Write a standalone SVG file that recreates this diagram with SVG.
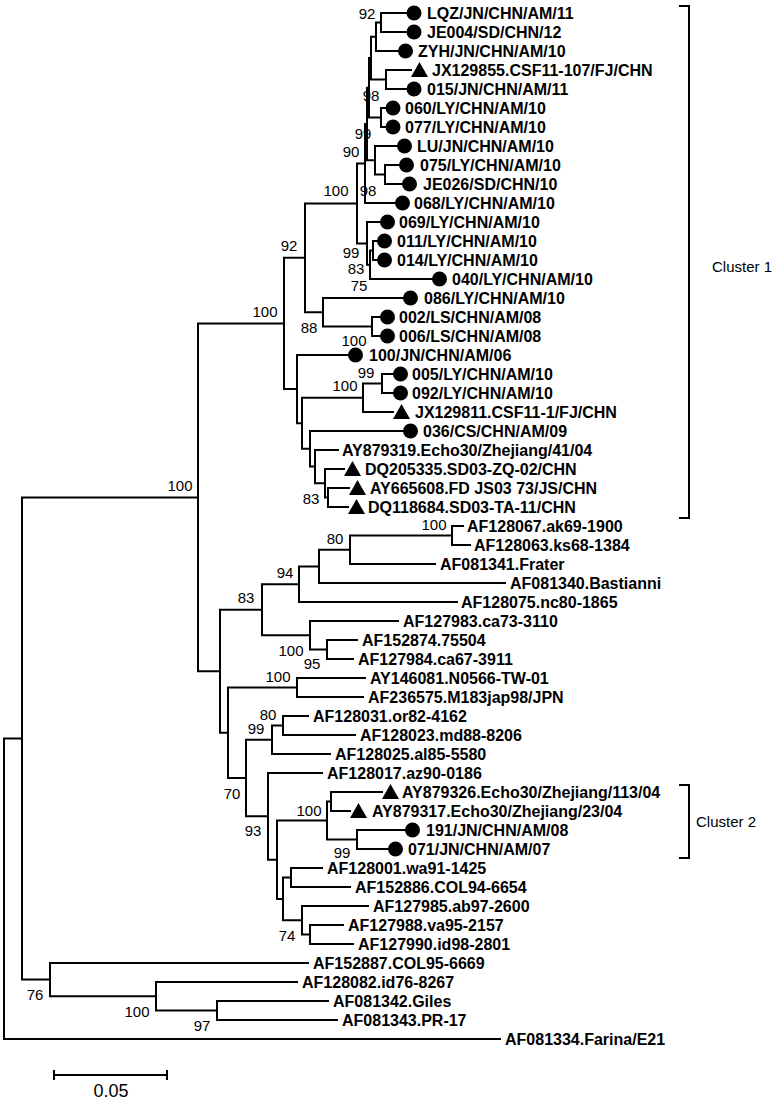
<svg xmlns="http://www.w3.org/2000/svg" width="773" height="1101" viewBox="0 0 773 1101">
<style>
.br{fill:none;stroke:#000;stroke-width:2;stroke-linecap:square}
.lf{font-family:"Liberation Sans",Arial,sans-serif;font-size:16px;font-weight:bold;fill:#000}
.bs{font-family:"Liberation Sans",Arial,sans-serif;font-size:15px;fill:#000;text-anchor:middle}
.cl{font-family:"Liberation Sans",Arial,sans-serif;font-size:15px;fill:#000}
.sc{font-family:"Liberation Sans",Arial,sans-serif;font-size:18px;fill:#000;text-anchor:middle}
.mk{fill:#000}
</style>
<defs>
<circle id="c" r="7.5"/>
<path id="t" d="M-8.5 7H8.5L0 -8Z"/>
</defs>
<rect width="773" height="1101" fill="#fff"/>
<g id="connectors" class="br">
<path d="M4 738.5V1039H500M4 738.5H22"/>
<path d="M22 497.4V979.6M22 497.4H198M22 979.6H50"/>
<path d="M50 963V996.25M50 963H308M50 996.25H156"/>
<path d="M156 982V1010.5M156 982H297M156 1010.5H217"/>
<path d="M217 1001V1020M217 1001H328M217 1020H337"/>
<path d="M198 323.5V671.25M198 323.5H284M198 671.25H220"/>
<path d="M284 257.8V389.1M284 257.8H305M284 389.1H297"/>
<path d="M305 203.4V312.25M305 203.4H357M305 312.25H323"/>
<path d="M357 163.5V243.4M357 163.5H365M357 243.4H367"/>
<path d="M365 124V203M365 124H367M365 203H395"/>
<path d="M367 87.8V160.25M367 87.8H369M367 160.25H375"/>
<path d="M369 58.1V117.5M369 58.1H371M369 117.5H381"/>
<path d="M371 36.75V79.5M371 36.75H376M371 79.5H386"/>
<path d="M376 22.5V51M376 22.5H381M376 51H398"/>
<path d="M381 13V32M381 13H406M381 32H406"/>
<path d="M386 70V89M386 70H411M386 89H406"/>
<path d="M381 108V127M381 108H385M381 127H385"/>
<path d="M375 146V174.5M375 146H397M375 174.5H385"/>
<path d="M385 165V184M385 165H399M385 184H402"/>
<path d="M367 222V264.75M367 222H380M367 264.75H370"/>
<path d="M370 250.5V279M370 250.5H373M370 279H432"/>
<path d="M373 241V260M373 241H377M373 260H377"/>
<path d="M323 298V326.5M323 298H403M323 326.5H372"/>
<path d="M372 317V336M372 317H380M372 336H380"/>
<path d="M297 355V423.3M297 355H348M297 423.3H302"/>
<path d="M302 397.75V448.8M302 397.75H363M302 448.8H310"/>
<path d="M363 383.5V412M363 383.5H382M363 412H393"/>
<path d="M382 374V393M382 374H393M382 393H393"/>
<path d="M310 431V466.6M310 431H403M310 466.6H315"/>
<path d="M315 450V483.25M315 450H338M315 483.25H325"/>
<path d="M325 469V497.5M325 469H344M325 497.5H328"/>
<path d="M328 488V507M328 488H349M328 507H348"/>
<path d="M220 609.7V732.8M220 609.7H262M220 732.8H228"/>
<path d="M262 584.2V635.25M262 584.2H299M262 635.25H310"/>
<path d="M299 566.4V602M299 566.4H319M299 602H457"/>
<path d="M319 549.75V583M319 549.75H350M319 583H505"/>
<path d="M350 535.5V564M350 535.5H452M350 564H435"/>
<path d="M452 526V545M452 526H463M452 545H470"/>
<path d="M310 621V649.5M310 621H398M310 649.5H327"/>
<path d="M327 640V659M327 640H357M327 659H353"/>
<path d="M228 687.5V778.05M228 687.5H297M228 778.05H246"/>
<path d="M297 678V697M297 678H365M297 697H363"/>
<path d="M246 739.75V816.35M246 739.75H272M246 816.35H268"/>
<path d="M272 725.5V754M272 725.5H283M272 754H330"/>
<path d="M283 716V735M283 716H308M283 735H355"/>
<path d="M268 773V859.7M268 773H322M268 859.7H277"/>
<path d="M277 820.5V898.9M277 820.5H327M277 898.9H283"/>
<path d="M327 801.5V839.5M327 801.5H331M327 839.5H357"/>
<path d="M331 792V811M331 792H382M331 811H350"/>
<path d="M357 830V849M357 830H405M357 849H388"/>
<path d="M283 877.5V920.25M283 877.5H291M283 920.25H302"/>
<path d="M291 868V887M291 868H322M291 887H350"/>
<path d="M302 906V934.5M302 906H368M302 934.5H310"/>
<path d="M310 925V944M310 925H343M310 944H353"/>
</g>
<g id="leaves" class="lf">
<g id="leaf-LQZ"><use href="#c" class="mk" x="414" y="13"/><text x="427" y="19">LQZ/JN/CHN/AM/11</text></g>
<g id="leaf-JE004"><use href="#c" class="mk" x="414" y="32"/><text x="427" y="38">JE004/SD/CHN/12</text></g>
<g id="leaf-ZYH"><use href="#c" class="mk" x="405.5" y="51"/><text x="418" y="57">ZYH/JN/CHN/AM/10</text></g>
<g id="leaf-JX129855"><use href="#t" class="mk" x="419.5" y="70"/><text x="432" y="76">JX129855.CSF11-107/FJ/CHN</text></g>
<g id="leaf-015"><use href="#c" class="mk" x="414" y="89"/><text x="427" y="95">015/JN/CHN/AM/11</text></g>
<g id="leaf-060"><use href="#c" class="mk" x="393" y="108"/><text x="405" y="114">060/LY/CHN/AM/10</text></g>
<g id="leaf-077"><use href="#c" class="mk" x="393" y="127"/><text x="405" y="133">077/LY/CHN/AM/10</text></g>
<g id="leaf-LU"><use href="#c" class="mk" x="404.5" y="146"/><text x="417" y="152">LU/JN/CHN/AM/10</text></g>
<g id="leaf-075"><use href="#c" class="mk" x="406.5" y="165"/><text x="420" y="171">075/LY/CHN/AM/10</text></g>
<g id="leaf-JE026"><use href="#c" class="mk" x="409.5" y="184"/><text x="423" y="190">JE026/SD/CHN/10</text></g>
<g id="leaf-068"><use href="#c" class="mk" x="402.5" y="203"/><text x="414" y="209">068/LY/CHN/AM/10</text></g>
<g id="leaf-069"><use href="#c" class="mk" x="387.5" y="222"/><text x="399" y="228">069/LY/CHN/AM/10</text></g>
<g id="leaf-011"><use href="#c" class="mk" x="384.5" y="241"/><text x="397" y="247">011/LY/CHN/AM/10</text></g>
<g id="leaf-014"><use href="#c" class="mk" x="384.5" y="260"/><text x="397" y="266">014/LY/CHN/AM/10</text></g>
<g id="leaf-040"><use href="#c" class="mk" x="439.5" y="279"/><text x="452" y="285">040/LY/CHN/AM/10</text></g>
<g id="leaf-086"><use href="#c" class="mk" x="410.5" y="298"/><text x="424" y="304">086/LY/CHN/AM/10</text></g>
<g id="leaf-002"><use href="#c" class="mk" x="387.5" y="317"/><text x="399" y="323">002/LS/CHN/AM/08</text></g>
<g id="leaf-006"><use href="#c" class="mk" x="387.5" y="336"/><text x="399" y="342">006/LS/CHN/AM/08</text></g>
<g id="leaf-100JN"><use href="#c" class="mk" x="355.5" y="355"/><text x="369" y="361">100/JN/CHN/AM/06</text></g>
<g id="leaf-005"><use href="#c" class="mk" x="400.5" y="374"/><text x="412" y="380">005/LY/CHN/AM/10</text></g>
<g id="leaf-092"><use href="#c" class="mk" x="400.5" y="393"/><text x="412" y="399">092/LY/CHN/AM/10</text></g>
<g id="leaf-JX129811"><use href="#t" class="mk" x="401.5" y="412"/><text x="415" y="418">JX129811.CSF11-1/FJ/CHN</text></g>
<g id="leaf-036"><use href="#c" class="mk" x="410.5" y="431"/><text x="423" y="437">036/CS/CHN/AM/09</text></g>
<g id="leaf-AY879319"><text x="342" y="456">AY879319.Echo30/Zhejiang/41/04</text></g>
<g id="leaf-DQ205335"><use href="#t" class="mk" x="352.5" y="469"/><text x="365" y="475">DQ205335.SD03-ZQ-02/CHN</text></g>
<g id="leaf-AY665608"><use href="#t" class="mk" x="357.5" y="488"/><text x="370" y="494">AY665608.FD JS03 73/JS/CHN</text></g>
<g id="leaf-DQ118684"><use href="#t" class="mk" x="356.5" y="507"/><text x="368" y="513">DQ118684.SD03-TA-11/CHN</text></g>
<g id="leaf-AF128067"><text x="467" y="532">AF128067.ak69-1900</text></g>
<g id="leaf-AF128063"><text x="474" y="551">AF128063.ks68-1384</text></g>
<g id="leaf-AF081341"><text x="440" y="570">AF081341.Frater</text></g>
<g id="leaf-AF081340"><text x="510" y="589">AF081340.Bastianni</text></g>
<g id="leaf-AF128075"><text x="461" y="608">AF128075.nc80-1865</text></g>
<g id="leaf-AF127983"><text x="403" y="627">AF127983.ca73-3110</text></g>
<g id="leaf-AF152874"><text x="362" y="646">AF152874.75504</text></g>
<g id="leaf-AF127984"><text x="358" y="665">AF127984.ca67-3911</text></g>
<g id="leaf-AY146081"><text x="370" y="684">AY146081.N0566-TW-01</text></g>
<g id="leaf-AF236575"><text x="368" y="703">AF236575.M183jap98/JPN</text></g>
<g id="leaf-AF128031"><text x="313" y="722">AF128031.or82-4162</text></g>
<g id="leaf-AF128023"><text x="360" y="741">AF128023.md88-8206</text></g>
<g id="leaf-AF128025"><text x="335" y="760">AF128025.al85-5580</text></g>
<g id="leaf-AF128017"><text x="327" y="779">AF128017.az90-0186</text></g>
<g id="leaf-AY879326"><use href="#t" class="mk" x="390.5" y="792"/><text x="402" y="798">AY879326.Echo30/Zhejiang/113/04</text></g>
<g id="leaf-AY879317"><use href="#t" class="mk" x="358.5" y="811"/><text x="372" y="817">AY879317.Echo30/Zhejiang/23/04</text></g>
<g id="leaf-191"><use href="#c" class="mk" x="412.5" y="830"/><text x="426" y="836">191/JN/CHN/AM/08</text></g>
<g id="leaf-071"><use href="#c" class="mk" x="395.5" y="849"/><text x="408" y="855">071/JN/CHN/AM/07</text></g>
<g id="leaf-AF128001"><text x="327" y="874">AF128001.wa91-1425</text></g>
<g id="leaf-AF152886"><text x="355" y="893">AF152886.COL94-6654</text></g>
<g id="leaf-AF127985"><text x="373" y="912">AF127985.ab97-2600</text></g>
<g id="leaf-AF127988"><text x="348" y="931">AF127988.va95-2157</text></g>
<g id="leaf-AF127990"><text x="358" y="950">AF127990.id98-2801</text></g>
<g id="leaf-AF152887"><text x="313" y="969">AF152887.COL95-6669</text></g>
<g id="leaf-AF128082"><text x="302" y="988">AF128082.id76-8267</text></g>
<g id="leaf-AF081342"><text x="333" y="1007">AF081342.Giles</text></g>
<g id="leaf-AF081343"><text x="342" y="1026">AF081343.PR-17</text></g>
<g id="leaf-AF081334"><text x="505" y="1045">AF081334.Farina/E21</text></g>
</g>
<g id="bootstrap" class="bs">
<text x="367" y="19">92</text>
<text x="371" y="101">98</text>
<text x="363" y="139">99</text>
<text x="351" y="157">90</text>
<text x="336" y="196">100</text>
<text x="368" y="196">98</text>
<text x="289" y="251">92</text>
<text x="351" y="258">99</text>
<text x="356" y="274">83</text>
<text x="359" y="291">75</text>
<text x="309" y="333">88</text>
<text x="354" y="346">100</text>
<text x="366" y="378">99</text>
<text x="345" y="391">100</text>
<text x="311" y="504">83</text>
<text x="265" y="317">100</text>
<text x="180" y="491">100</text>
<text x="434" y="530">100</text>
<text x="335" y="544">80</text>
<text x="285" y="578">94</text>
<text x="246" y="603">83</text>
<text x="291" y="656">100</text>
<text x="312" y="669">95</text>
<text x="278" y="682">100</text>
<text x="268" y="720">80</text>
<text x="256" y="734">99</text>
<text x="232" y="799">70</text>
<text x="309" y="816">100</text>
<text x="253" y="836">93</text>
<text x="342" y="858">99</text>
<text x="287" y="941">74</text>
<text x="35" y="1000">76</text>
<text x="137" y="1017">100</text>
<text x="202" y="1031">97</text>
</g>
<g id="cluster1"><path class="br" d="M680 6H689V518H680"/><text class="cl" x="712" y="272">Cluster 1</text></g>
<g id="cluster2"><path class="br" d="M680 785H689V858H680"/><text class="cl" x="696" y="827">Cluster 2</text></g>
<g id="scalebar"><path class="br" d="M54 1075H167M54 1071V1079M167 1071V1079"/><text class="sc" x="111" y="1097">0.05</text></g>
</svg>
